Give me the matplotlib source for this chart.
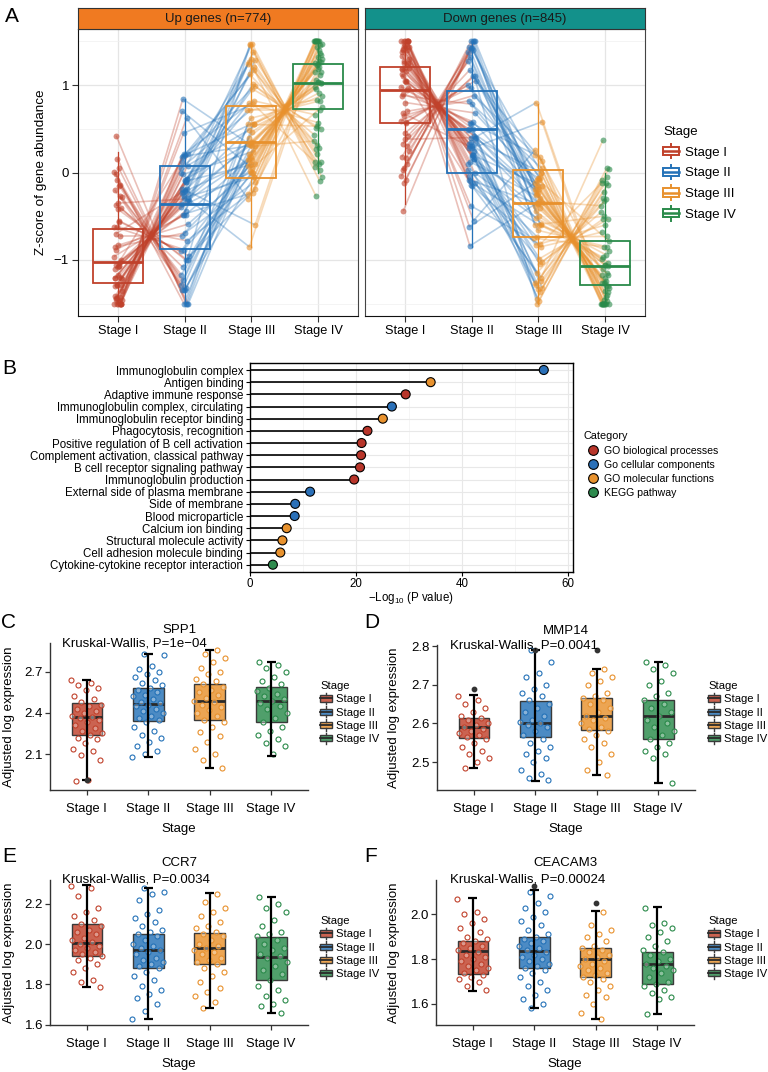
import matplotlib
matplotlib.use('Agg')
import matplotlib.pyplot as plt
import numpy as np
from matplotlib.collections import LineCollection
from matplotlib.patches import Rectangle, Patch
from matplotlib.lines import Line2D
from matplotlib.legend_handler import HandlerBase
from matplotlib.colors import to_rgba
from matplotlib.ticker import FormatStrFormatter

plt.rcParams['font.family'] = ['Liberation Sans', 'DejaVu Sans']
plt.rcParams['mathtext.default'] = 'regular'

# ---------------- data ----------------
stages = ['Stage I', 'Stage II', 'Stage III', 'Stage IV']

# Panel A: sampled gene trajectories (z-scores) per stage
up_s1 = [-0.96,-1.07,-1.06,-1.28,-1.17,-1.21,-1.42,-1.43,-1.22,-1.50,-1.41,-1.50,-1.29,-1.50,-1.47,-1.43,-1.50,-1.48,-1.30,-1.50,
         -1.29,-1.46,-1.19,-1.44,-1.21,-1.08,-1.21,-1.07,-0.88,-1.00,-0.83,-0.85,-0.72,-0.62,-0.62,-0.56,-0.37,-0.40,-0.42,-0.20,
         -0.27,-0.08,-0.28,0.05,-0.02,-0.14,0.16,0.01,-0.15,0.42,-1.50,-0.35,-1.10,-1.02,-1.50,-1.35,-0.55,-0.70,-1.50]
up_s2 = [-0.48,-0.33,-0.44,-0.19,-0.19,-0.27,-0.01,-0.11,-0.22,0.21,-0.09,0.12,-0.07,0.21,0.05,-0.11,0.19,0.08,-0.21,0.18,
         -0.07,-0.02,-0.24,-0.10,-0.23,-0.32,-0.29,-0.39,-0.48,-0.48,-0.59,-0.69,-0.72,-0.78,-0.88,-0.90,-1.00,-1.08,-1.00,-1.34,
         -1.17,-1.32,-1.23,-1.50,-1.34,-1.34,-1.50,-1.50,-1.29,-1.50,0.84,-0.30,0.20,-0.36,0.62,0.45,-0.95,-0.20,0.70]
up_s3 = [1.38,1.46,1.29,1.47,1.26,1.21,1.30,1.24,1.01,1.12,0.99,0.96,0.79,0.82,0.71,0.71,0.56,0.49,0.55,0.31,
         0.33,0.24,0.31,0.10,0.14,0.16,-0.05,0.00,0.14,-0.23,0.02,-0.11,0.10,-0.25,0.00,0.09,-0.19,0.01,0.21,-0.05,
         0.18,0.08,0.35,0.19,0.30,0.46,0.40,0.56,0.62,0.55,0.30,-0.85,1.17,0.35,-0.30,0.78,1.47,-0.60,0.05]
up_s4 = [0.06,-0.10,0.21,-0.05,0.10,0.27,0.12,0.31,0.43,0.28,0.51,0.50,0.57,0.66,0.71,0.83,0.88,0.91,0.95,1.15,
         1.03,1.25,1.11,1.44,1.30,1.24,1.50,1.46,1.23,1.50,1.40,1.50,1.34,1.50,1.50,1.37,1.50,1.47,1.21,1.50,
         1.26,1.32,1.15,1.28,1.06,1.02,1.03,0.98,0.82,0.53,0.36,1.50,-0.27,1.02,1.18,0.12,0.03,1.50,0.75]
down_s1 = [0.98,1.05,1.10,1.25,1.19,1.18,1.40,1.45,1.20,1.50,1.38,1.50,1.27,1.50,1.44,1.40,1.50,1.46,1.33,1.50,
           1.25,1.43,1.16,1.41,1.24,1.05,1.18,1.04,0.90,0.97,0.80,0.88,0.70,0.65,0.59,0.58,0.33,0.42,0.45,0.18,
           0.30,0.05,0.25,-0.08,0.03,0.10,-0.12,-0.04,0.17,-0.44,1.50,0.38,1.12,0.94,1.50,1.30,0.57,0.68,1.50]
down_s2 = [0.56,0.40,0.50,0.28,0.25,0.35,0.10,0.20,0.30,-0.12,0.18,-0.04,0.16,-0.14,0.03,0.20,-0.10,0.00,0.30,-0.08,
           0.16,0.12,0.34,0.20,0.33,0.42,0.40,0.49,0.58,0.57,0.68,0.78,0.82,0.88,0.97,1.00,1.10,1.17,1.10,1.42,
           1.27,1.40,1.32,1.50,1.42,1.43,1.50,1.50,1.38,1.50,-0.84,0.40,-0.15,0.50,-0.55,-0.38,1.05,0.28,-0.62]
down_s3 = [-1.36,-1.44,-1.32,-1.47,-1.28,-1.24,-1.33,-1.26,-1.05,-1.15,-1.02,-0.99,-0.83,-0.85,-0.74,-0.75,-0.60,-0.52,-0.59,-0.36,
           -0.38,-0.29,-0.35,-0.15,-0.19,-0.21,0.00,-0.06,-0.19,0.18,-0.08,0.05,-0.16,0.20,-0.06,-0.14,0.13,-0.06,-0.26,0.00,
           -0.23,-0.12,-0.40,-0.24,-0.35,-0.50,-0.44,-0.60,-0.66,-0.60,-0.33,0.80,-1.20,-0.35,0.26,-0.82,-1.50,0.58,-0.09]
down_s4 = [-0.08,0.05,-0.22,0.04,-0.12,-0.29,-0.14,-0.33,-0.45,-0.30,-0.53,-0.53,-0.60,-0.68,-0.73,-0.85,-0.90,-0.94,-0.97,-1.17,
           -1.06,-1.26,-1.15,-1.46,-1.32,-1.26,-1.50,-1.47,-1.26,-1.50,-1.42,-1.50,-1.36,-1.50,-1.50,-1.40,-1.50,-1.50,-1.24,-1.50,
           -1.30,-1.35,-1.17,-1.30,-1.10,-1.03,-1.06,-0.99,-0.85,-0.50,-0.38,-1.50,0.37,-1.07,-1.20,-0.12,-0.05,-1.50,-0.78]

# Panel A box statistics (all genes)
up_q1 = [-1.26, -0.87, -0.06, 0.73]
up_med = [-1.02, -0.36, 0.35, 1.02]
up_q3 = [-0.65, 0.07, 0.76, 1.24]
up_lo = [-1.50, -1.50, -0.85, 0.00]
up_hi = [0.23, 0.84, 1.47, 1.50]
down_q1 = [0.57, 0.00, -0.74, -1.28]
down_med = [0.94, 0.50, -0.35, -1.07]
down_q3 = [1.21, 0.93, 0.03, -0.78]
down_lo = [-0.36, -0.85, -1.50, -1.50]
down_hi = [1.50, 1.50, 0.78, 0.00]

# Panel B
terms = ['Immunoglobulin complex', 'Antigen binding', 'Adaptive immune response',
         'Immunoglobulin complex, circulating', 'Immunoglobulin receptor binding',
         'Phagocytosis, recognition', 'Positive regulation of B cell activation',
         'Complement activation, classical pathway', 'B cell receptor signaling pathway',
         'Immunoglobulin production', 'External side of plasma membrane', 'Side of membrane',
         'Blood microparticle', 'Calcium ion binding', 'Structural molecule activity',
         'Cell adhesion molecule binding', 'Cytokine-cytokine receptor interaction']
neglog_p = [55.4, 34.1, 29.4, 26.8, 25.1, 22.2, 21.1, 21.0, 20.8, 19.7, 11.4, 8.6, 8.5, 7.0, 6.2, 5.8, 4.4]
term_cat = ['CC', 'MF', 'BP', 'CC', 'MF', 'BP', 'BP', 'BP', 'BP', 'BP', 'CC', 'CC', 'CC', 'MF', 'MF', 'MF', 'KEGG']
cat_keys = ['BP', 'CC', 'MF', 'KEGG']
cat_labels = ['GO biological processes', 'Go cellular components', 'GO molecular functions', 'KEGG pathway']

# Panels C-F: box statistics and sampled points
spp1_q1 = [2.242, 2.344, 2.351, 2.334]
spp1_med = [2.368, 2.465, 2.490, 2.490]
spp1_q3 = [2.470, 2.580, 2.610, 2.587]
spp1_lo = [1.91, 2.08, 1.995, 2.088]
spp1_hi = [2.64, 2.83, 2.86, 2.77]
spp1_s1 = [2.64,2.62,2.60,2.58,2.57,2.52,2.50,2.48,2.46,2.45,2.43,2.41,2.40,2.38,2.37,2.36,2.35,2.33,2.31,2.29,2.27,2.25,2.24,2.22,2.21,2.18,2.14,2.12,2.09,2.06,1.91,1.90]
spp1_s2 = [2.83,2.82,2.74,2.72,2.70,2.68,2.66,2.64,2.62,2.60,2.58,2.57,2.55,2.53,2.52,2.50,2.48,2.47,2.46,2.45,2.43,2.41,2.40,2.38,2.36,2.35,2.33,2.30,2.27,2.24,2.22,2.19,2.16,2.12,2.10,2.08]
spp1_s3 = [2.86,2.83,2.80,2.77,2.73,2.70,2.68,2.65,2.63,2.61,2.59,2.57,2.55,2.53,2.51,2.49,2.48,2.46,2.44,2.42,2.40,2.38,2.35,2.33,2.30,2.26,2.23,2.19,2.14,2.10,2.06,2.00]
spp1_s4 = [2.77,2.75,2.73,2.70,2.66,2.63,2.61,2.58,2.56,2.54,2.52,2.50,2.49,2.47,2.45,2.43,2.40,2.36,2.33,2.30,2.27,2.24,2.21,2.18,2.16,2.10]
spp1_out_stage = [1]
spp1_out_val = [1.91]

mmp14_q1 = [2.562, 2.565, 2.583, 2.561]
mmp14_med = [2.590, 2.602, 2.619, 2.619]
mmp14_q3 = [2.614, 2.659, 2.666, 2.660]
mmp14_lo = [2.484, 2.452, 2.466, 2.445]
mmp14_hi = [2.673, 2.790, 2.741, 2.760]
mmp14_s1 = [2.67,2.66,2.65,2.64,2.63,2.62,2.615,2.61,2.60,2.595,2.59,2.585,2.58,2.575,2.57,2.565,2.56,2.55,2.54,2.53,2.52,2.51,2.50,2.485]
mmp14_s2 = [2.79,2.76,2.73,2.72,2.70,2.69,2.68,2.67,2.66,2.65,2.64,2.63,2.62,2.61,2.605,2.60,2.595,2.59,2.58,2.57,2.56,2.55,2.54,2.53,2.52,2.51,2.50,2.48,2.47,2.46,2.455]
mmp14_s3 = [2.74,2.73,2.72,2.71,2.70,2.68,2.67,2.665,2.66,2.65,2.64,2.63,2.62,2.615,2.61,2.60,2.59,2.585,2.58,2.57,2.56,2.55,2.54,2.52,2.50,2.48,2.466]
mmp14_s4 = [2.76,2.75,2.74,2.73,2.71,2.70,2.68,2.67,2.66,2.65,2.64,2.63,2.62,2.61,2.60,2.59,2.58,2.57,2.56,2.55,2.54,2.53,2.52,2.51,2.445]
mmp14_out_stage = [1, 2, 3]
mmp14_out_val = [2.69, 2.79, 2.79]

ccr7_q1 = [1.939, 1.881, 1.901, 1.820]
ccr7_med = [2.008, 1.969, 1.982, 1.935]
ccr7_q3 = [2.101, 2.051, 2.053, 2.036]
ccr7_lo = [1.785, 1.628, 1.683, 1.656]
ccr7_hi = [2.293, 2.278, 2.252, 2.235]
ccr7_s1 = [2.29,2.28,2.24,2.18,2.16,2.14,2.12,2.10,2.09,2.07,2.06,2.05,2.03,2.02,2.01,2.00,1.99,1.98,1.97,1.96,1.95,1.94,1.93,1.92,1.90,1.88,1.86,1.82,1.81,1.785]
ccr7_s2 = [2.28,2.26,2.25,2.22,2.17,2.15,2.13,2.11,2.09,2.07,2.06,2.05,2.04,2.02,2.00,1.99,1.98,1.97,1.96,1.95,1.93,1.92,1.91,1.90,1.89,1.88,1.86,1.84,1.82,1.79,1.77,1.75,1.73,1.70,1.67,1.63]
ccr7_s3 = [2.25,2.21,2.18,2.16,2.14,2.11,2.09,2.08,2.06,2.05,2.04,2.02,2.00,1.99,1.98,1.97,1.96,1.95,1.93,1.92,1.91,1.90,1.88,1.86,1.84,1.81,1.78,1.76,1.74,1.71,1.685]
ccr7_s4 = [2.235,2.20,2.18,2.16,2.12,2.09,2.06,2.05,2.04,2.02,2.00,1.98,1.97,1.95,1.94,1.93,1.91,1.89,1.87,1.85,1.82,1.79,1.77,1.74,1.72,1.70,1.69,1.66]
ccr7_out_stage = []
ccr7_out_val = []

ceacam3_q1 = [1.735, 1.760, 1.721, 1.688]
ceacam3_med = [1.834, 1.834, 1.800, 1.776]
ceacam3_q3 = [1.883, 1.900, 1.849, 1.833]
ceacam3_lo = [1.656, 1.581, 1.532, 1.555]
ceacam3_hi = [2.071, 2.107, 2.015, 2.031]
ceacam3_s1 = [2.07,2.01,2.00,1.98,1.96,1.94,1.92,1.90,1.89,1.88,1.87,1.86,1.85,1.84,1.83,1.82,1.81,1.80,1.79,1.78,1.77,1.76,1.75,1.74,1.73,1.72,1.71,1.70,1.68,1.66]
ceacam3_s2 = [2.10,2.08,2.05,2.03,2.01,1.99,1.97,1.95,1.93,1.91,1.90,1.89,1.88,1.87,1.86,1.85,1.84,1.83,1.82,1.81,1.80,1.79,1.78,1.77,1.76,1.75,1.74,1.72,1.70,1.68,1.66,1.64,1.62,1.60,1.58]
ceacam3_s3 = [2.01,1.95,1.93,1.91,1.90,1.88,1.86,1.85,1.84,1.83,1.82,1.81,1.80,1.79,1.78,1.77,1.76,1.75,1.74,1.73,1.72,1.71,1.70,1.68,1.66,1.64,1.63,1.60,1.56,1.535]
ceacam3_s4 = [2.03,1.96,1.95,1.94,1.92,1.90,1.88,1.86,1.84,1.83,1.82,1.80,1.79,1.78,1.77,1.76,1.75,1.74,1.72,1.70,1.69,1.68,1.66,1.65,1.63,1.62,1.555]
ceacam3_out_stage = [2, 3]
ceacam3_out_val = [2.126, 2.049]

# ---------------- style ----------------
stage_colors = ['#C0412B', '#2472B8', '#E8912D', '#2A8A4A']
cat_colors = {'BP': '#B8352A', 'CC': '#2A70B8', 'MF': '#E8922E', 'KEGG': '#2E8B4E'}
W, H = 768, 1072
fig = plt.figure(figsize=(W / 100, H / 100), dpi=100)


def fax(x0, y0, x1, y1):
    return fig.add_axes([x0 / W, 1 - y1 / H, (x1 - x0) / W, (y1 - y0) / H])


class BoxHandler(HandlerBase):
    def __init__(self, lw=1.2, median_color=None):
        super().__init__()
        self.lw = lw
        self.median_color = median_color

    def create_artists(self, legend, orig_handle, xdescent, ydescent, width, height, fontsize, trans):
        x0, y0 = -xdescent, -ydescent
        fc = orig_handle.get_facecolor()
        ec = orig_handle.get_edgecolor()
        mc = self.median_color if self.median_color else ec
        rect = Rectangle((x0, y0 + 0.15 * height), width, 0.7 * height, facecolor=fc,
                         edgecolor=ec, lw=self.lw, transform=trans)
        med = Line2D([x0, x0 + width], [y0 + 0.5 * height] * 2, color=mc, lw=self.lw * 1.3, transform=trans)
        w1 = Line2D([x0 + width / 2] * 2, [y0 - 0.12 * height, y0 + 0.15 * height], color=ec, lw=self.lw, transform=trans)
        w2 = Line2D([x0 + width / 2] * 2, [y0 + 0.85 * height, y0 + 1.12 * height], color=ec, lw=self.lw, transform=trans)
        return [rect, med, w1, w2]


# ---------------- Panel A ----------------
def jitter(n, k, width):
    return ((np.arange(n) * 0.6180339 + 0.37 * k) % 1.0 - 0.5) * width


def panel_a(ax, cols, q1, med, q3, lo, hi, show_y):
    vals = [np.array(c) for c in cols]
    n = len(vals[0])
    xs = [k + 1 + jitter(n, k, 0.12) for k in range(4)]
    for k in range(3):
        segs = np.stack([np.column_stack([xs[k], vals[k]]), np.column_stack([xs[k + 1], vals[k + 1]])], axis=1)
        lc = LineCollection(segs, colors=stage_colors[k], alpha=0.33, linewidths=1.2, zorder=1)
        ax.add_collection(lc)
    for k in range(4):
        ax.scatter(xs[k], vals[k], s=18, color=stage_colors[k], alpha=0.6, lw=0, zorder=2)
    for k in range(4):
        st = dict(med=med[k], q1=q1[k], q3=q3[k], whislo=lo[k], whishi=hi[k], fliers=[])
        c = stage_colors[k]
        b = ax.bxp([st], positions=[k + 1], widths=0.75, patch_artist=True, showfliers=False,
                   boxprops=dict(facecolor='none', edgecolor=c, lw=1.3),
                   medianprops=dict(color=c, lw=2.0),
                   whiskerprops=dict(color=c, lw=0.9), capprops=dict(lw=0), manage_ticks=False)
        for key in b:
            for art in b[key]:
                art.set_zorder(3)
    ax.set_xlim(0.4, 4.6)
    ax.set_ylim(-1.64, 1.64)
    ax.set_xticks([1, 2, 3, 4])
    ax.set_xticklabels(stages, fontsize=9.2)
    ax.set_yticks([-1, 0, 1])
    ax.set_yticklabels(['\u22121', '0', '1'], fontsize=9.5)
    ax.set_yticks([-1.5, -0.5, 0.5, 1.5], minor=True)
    ax.grid(which='major', color='#E5E5E5', lw=0.9)
    ax.grid(which='minor', axis='y', color='#F0F0F0', lw=0.5)
    ax.set_axisbelow(True)
    ax.tick_params(which='minor', length=0)
    ax.tick_params(which='major', length=4, width=0.8, color='#333333', pad=2.5)
    for s in ax.spines.values():
        s.set_color('#444444')
        s.set_linewidth(0.8)
    ax.spines['left'].set_color('#111111')
    ax.spines['bottom'].set_color('#111111')
    if not show_y:
        ax.tick_params(axis='y', which='both', left=False, labelleft=False)
        ax.spines['left'].set_color('#444444')


axA1 = fax(78, 29, 358, 316)
axA2 = fax(365, 29, 645, 316)
panel_a(axA1, [up_s1, up_s2, up_s3, up_s4], up_q1, up_med, up_q3, up_lo, up_hi, True)
panel_a(axA2, [down_s1, down_s2, down_s3, down_s4], down_q1, down_med, down_q3, down_lo, down_hi, False)
axA1.set_ylabel('Z-score of gene abundance', fontsize=9.7)
axA1.yaxis.set_label_coords((47 - 78) / 280, 0.5)

for (x0, x1, txt, col) in [(78, 358, 'Up genes (n=774)', '#F07A21'), (365, 645, 'Down genes (n=845)', '#13918B')]:
    sax = fax(x0, 8, x1, 29)
    sax.set_facecolor(col)
    sax.set_xticks([])
    sax.set_yticks([])
    for s in sax.spines.values():
        s.set_color('#333333')
        s.set_linewidth(0.8)
    sax.text(0.5, 0.48, txt, ha='center', va='center', fontsize=9.5, color='#1a1a1a', transform=sax.transAxes)

hA = [Patch(facecolor='white', edgecolor=c) for c in stage_colors]
hmA = {h: BoxHandler(lw=1.4) for h in hA}
fig.legend(hA, stages, title='Stage', loc='upper left', bbox_to_anchor=(663 / W, 1 - 126 / H),
           frameon=False, fontsize=9.5, title_fontsize=9.5, alignment='left', labelspacing=0.55,
           handlelength=1.25, handleheight=1.0, handletextpad=0.4, borderaxespad=0, borderpad=0,
           handler_map=hmA)

# ---------------- Panel B ----------------
axB = fax(249.5, 362.7, 573, 572)
n_terms = len(terms)
ypos = np.arange(n_terms)[::-1] + 1
axB.hlines(ypos, 0, neglog_p, color='black', lw=1.2, zorder=2)
axB.scatter(neglog_p, ypos, s=42, c=[cat_colors[c] for c in term_cat], edgecolors='black', linewidths=0.8, zorder=3)
axB.set_xlim(0, 60.9)
axB.set_ylim(0.4, n_terms + 0.6)
axB.set_yticks(ypos)
axB.set_yticklabels(terms, fontsize=8.3)
axB.set_xticks([0, 20, 40, 60])
axB.set_xticks([10, 30, 50], minor=True)
axB.tick_params(axis='x', labelsize=8.3, length=3, pad=1.5)
axB.tick_params(axis='y', length=3, pad=1.5)
axB.tick_params(which='minor', length=0)
axB.grid(which='major', color='#E8E8E8', lw=0.8)
axB.grid(which='minor', axis='x', color='#F2F2F2', lw=0.5)
axB.set_axisbelow(True)
for s in axB.spines.values():
    s.set_color('black')
    s.set_linewidth(1.0)
axB.set_xlabel('\u2212Log$_{10}$ (P value)', fontsize=8.3, labelpad=0)
hB = [Line2D([], [], marker='o', ls='none', markersize=7, markerfacecolor=cat_colors[k],
             markeredgecolor='black', markeredgewidth=0.8) for k in cat_keys]
fig.legend(hB, cat_labels, title='Category', loc='upper left', bbox_to_anchor=(584 / W, 1 - 431.5 / H),
           frameon=False, fontsize=7.6, title_fontsize=7.8, alignment='left', labelspacing=0.38,
           handlelength=1.7, handletextpad=0.15, borderaxespad=0, borderpad=0)


# ---------------- Panels C-F ----------------
def box_panel(ax, gene, ptext, pts, q1, med, q3, lo, hi, out_stage, out_val, ylim, yticks,
              title_y, ptext_x, leg_xy, ylab_x):
    for k in range(4):
        c = stage_colors[k]
        st = dict(med=med[k], q1=q1[k], q3=q3[k], whislo=lo[k], whishi=hi[k], fliers=[])
        b = ax.bxp([st], positions=[k + 1], widths=0.5, patch_artist=True, showfliers=False,
                   boxprops=dict(facecolor=to_rgba(c, 0.82), edgecolor='#3a3a3a', lw=1.0),
                   medianprops=dict(color='#2a2a2a', lw=2.0),
                   whiskerprops=dict(lw=0), capprops=dict(lw=0), manage_ticks=False)
        for art in b['boxes']:
            art.set_zorder(2)
        for art in b['medians']:
            art.set_zorder(2.5)
        v = np.array(pts[k])
        x = k + 1 + jitter(len(v), k, 0.52)
        ax.scatter(x, v, s=13, facecolors=(1, 1, 1, 0.35), edgecolors=c, linewidths=0.8, zorder=3)
        ax.vlines(k + 1, lo[k], hi[k], color='black', lw=1.6, zorder=4)
        ax.hlines([lo[k], hi[k]], k + 1 - 0.075, k + 1 + 0.075, color='black', lw=1.6, zorder=4)
    if out_stage:
        ax.scatter(out_stage, out_val, s=10, color='#333333', zorder=5)
    ax.set_xlim(0.4, 4.6)
    ax.set_ylim(*ylim)
    ax.set_xticks([1, 2, 3, 4])
    ax.set_xticklabels(stages, fontsize=9.3)
    ax.set_yticks(yticks)
    ax.yaxis.set_major_formatter(FormatStrFormatter('%.1f'))
    ax.tick_params(axis='y', labelsize=9.5, length=3.5, pad=1.5, color='#333333', width=0.9)
    ax.tick_params(axis='x', length=3.5, pad=6, color='#333333', width=0.9)
    for s in ['top', 'right']:
        ax.spines[s].set_visible(False)
    for s in ['left', 'bottom']:
        ax.spines[s].set_color('#333333')
        ax.spines[s].set_linewidth(1.0)
    ax.set_xlabel('Stage', fontsize=9.5, labelpad=5.5)
    ax.set_ylabel('Adjusted log expression', fontsize=9.5)
    ax.yaxis.set_label_coords(ylab_x, 0.5)
    ax.text(0.5, title_y, gene, transform=ax.transAxes, ha='center', va='center', fontsize=9.5)
    ax.text(ptext_x, 1.0, ptext, transform=ax.transAxes, ha='left', va='center', fontsize=9.5, zorder=6)
    hs = [Patch(facecolor=to_rgba(c, 0.82), edgecolor='#3a3a3a') for c in stage_colors]
    hm = {h: BoxHandler(lw=1.0, median_color='#2a2a2a') for h in hs}
    fig.legend(hs, stages, title='Stage', loc='upper left', bbox_to_anchor=(leg_xy[0] / W, 1 - leg_xy[1] / H),
               frameon=False, fontsize=8.1, title_fontsize=8.1, alignment='left', labelspacing=0.26,
               handlelength=1.1, handleheight=0.85, handletextpad=0.3, borderaxespad=0, borderpad=0,
               handler_map=hm)


axC = fax(50, 643, 308, 790)
box_panel(axC, 'SPP1', 'Kruskal-Wallis, P=1e\u221204', [spp1_s1, spp1_s2, spp1_s3, spp1_s4],
          spp1_q1, spp1_med, spp1_q3, spp1_lo, spp1_hi, spp1_out_stage, spp1_out_val,
          (1.838, 2.909), [2.1, 2.4, 2.7], 1.088, 0.047, (320, 681), (15 - 50) / 258)
axD = fax(437, 645, 695, 790)
box_panel(axD, 'MMP14', 'Kruskal-Wallis, P=0.0041', [mmp14_s1, mmp14_s2, mmp14_s3, mmp14_s4],
          mmp14_q1, mmp14_med, mmp14_q3, mmp14_lo, mmp14_hi, mmp14_out_stage, mmp14_out_val,
          (2.428, 2.803), [2.5, 2.6, 2.7, 2.8], 1.095, 0.05, (708, 681), (400 - 437) / 258)
axE = fax(50, 880, 308, 1025)
box_panel(axE, 'CCR7', 'Kruskal-Wallis, P=0.0034', [ccr7_s1, ccr7_s2, ccr7_s3, ccr7_s4],
          ccr7_q1, ccr7_med, ccr7_q3, ccr7_lo, ccr7_hi, ccr7_out_stage, ccr7_out_val,
          (1.598, 2.319), [1.6, 1.8, 2.0, 2.2], 1.117, 0.047, (320, 916), (15 - 50) / 258)
axF = fax(436, 880, 694, 1025)
box_panel(axF, 'CEACAM3', 'Kruskal-Wallis, P=0.00024', [ceacam3_s1, ceacam3_s2, ceacam3_s3, ceacam3_s4],
          ceacam3_q1, ceacam3_med, ceacam3_q3, ceacam3_lo, ceacam3_hi, ceacam3_out_stage, ceacam3_out_val,
          (1.506, 2.153), [1.6, 1.8, 2.0], 1.117, 0.054, (708, 916), (400 - 436) / 258)

# panel letters
for (lx, ly, lt) in [(12, 16, 'A'), (9, 369, 'B'), (9, 622, 'C'), (372, 622, 'D'), (9, 857, 'E'), (371, 857, 'F')]:
    fig.text(lx / W, 1 - ly / H, lt, fontsize=15, ha='center', va='center')

fig.savefig('out.png', dpi=100)
